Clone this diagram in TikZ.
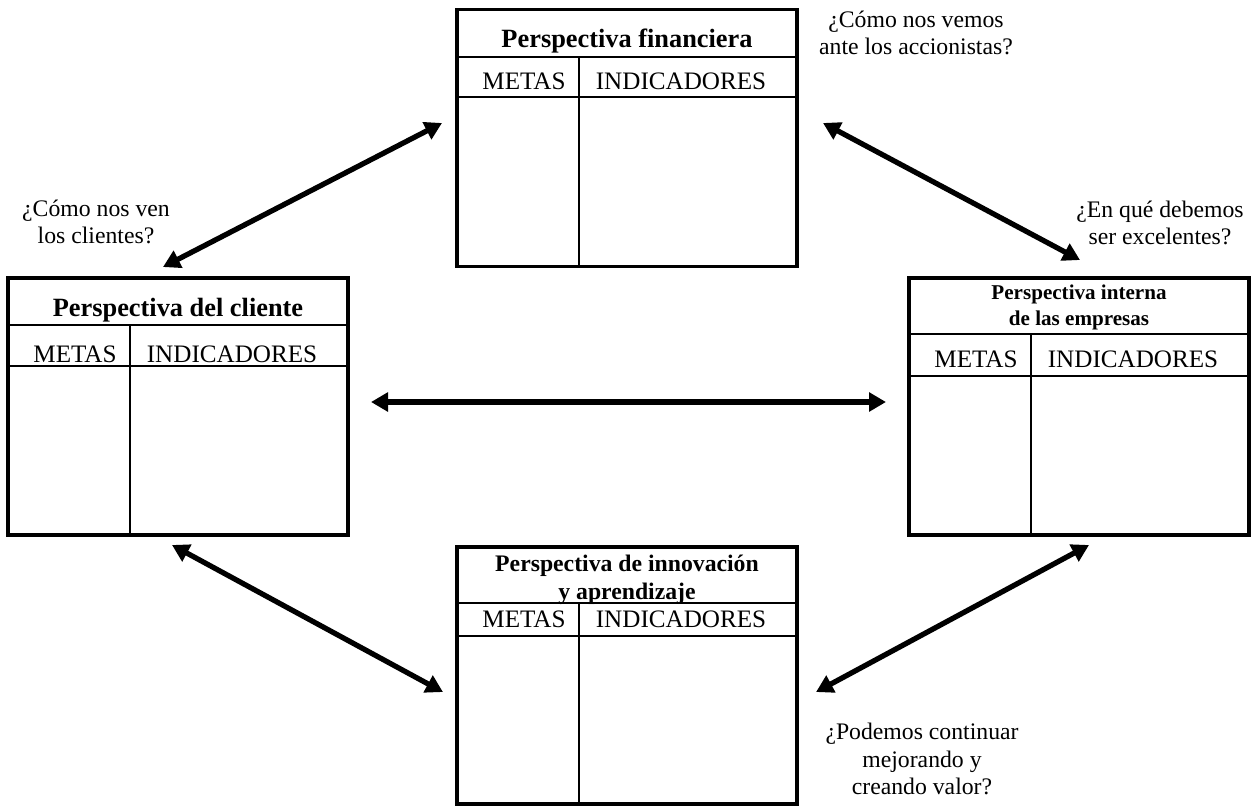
\documentclass[tikz,border=0pt]{standalone}
\usepackage{fontspec}
\setmainfont{Liberation Serif}
\usetikzlibrary{arrows.meta}

\begin{document}
\begin{tikzpicture}[x=0.02cm,y=-0.02cm]
		\tikzset{frame/.style = {shape=rectangle,draw,line width=2.2pt,minimum width=6.8cm,minimum height=5.14cm,inner sep=0pt}}
		\tikzset{rule/.style = {line width=1.1pt}}
		\tikzset{title/.style = {font=\bfseries\fontsize{15}{17}\selectfont,inner sep=0pt,align=center}}
		\tikzset{head/.style = {font=\fontsize{14.3}{16}\selectfont,inner sep=0pt}}
		\tikzset{question/.style = {font=\fontsize{13.5}{15.5}\selectfont,inner sep=0pt,align=center}}
		\tikzset{twoway/.style = {<->,> = {Triangle[length=0.34cm,width=0.37cm]},line width=3pt}}
		\useasboundingbox (0,0) rectangle (1256,806);
		% boxes
		\node[frame] (fin) at (627,138) {};
		\node[frame] (cli) at (178,406.5) {};
		\node[frame] (int) at (1079,406.5) {};
		\node[frame] (inn) at (627,675.5) {};
		% rows and columns
		\draw[rule] (457,57) -- (797,57) (457,97) -- (797,97) (579,57) -- (579,266);
		\draw[rule] (8,325) -- (348,325) (8,366) -- (348,366) (130,325) -- (130,535);
		\draw[rule] (909,334) -- (1249,334) (909,376) -- (1249,376) (1031,334) -- (1031,535);
		\draw[rule] (457,603) -- (797,603) (457,636) -- (797,636) (579,603) -- (579,804);
		% titles
		\node[title] (finT) at (627,41) {Perspectiva financiera};
		\node[title] (cliT) at (178,310) {Perspectiva del cliente};
		\node[title,font=\bfseries\fontsize{12}{14.8}\selectfont] (intT) at (1079,307) {Perspectiva interna\\de las empresas};
		\node[title,font=\bfseries\fontsize{13.5}{16}\selectfont] (innT) at (627,580) {Perspectiva de innovación\\y aprendizaje};
		% headers
		\node[head] (finM) at (524,81) {METAS};
		\node[head] (finI) at (681,81) {INDICADORES};
		\node[head] (cliM) at (75,354) {METAS};
		\node[head] (cliI) at (232,354) {INDICADORES};
		\node[head] (intM) at (976,359) {METAS};
		\node[head] (intI) at (1133,359) {INDICADORES};
		\node[head] (innM) at (524,619) {METAS};
		\node[head] (innI) at (681,619) {INDICADORES};
		% questions
		\node[question] (qFin) at (916,33) {¿Cómo nos vemos\\ante los accionistas?};
		\node[question] (qCli) at (96,222) {¿Cómo nos ven\\los clientes?};
		\node[question] (qInt) at (1160,223) {¿En qué debemos\\ser excelentes?};
		\node[question] (qInn) at (922,759) {¿Podemos continuar\\mejorando y\\creando valor?};
		% ends
		\coordinate (finL) at (442,123);
		\coordinate (cliU) at (163,267);
		\coordinate (finR) at (823,123);
		\coordinate (intU) at (1080,260);
		\coordinate (cliR) at (371,402);
		\coordinate (intL) at (886,402);
		\coordinate (cliD) at (172,545);
		\coordinate (innL) at (443,692);
		\coordinate (intD) at (1089,545);
		\coordinate (innR) at (816,692);
		% edges
		\draw[twoway] (finL) -- (cliU);
		\draw[twoway] (finR) -- (intU);
		\draw[twoway] (cliR) -- (intL);
		\draw[twoway] (cliD) -- (innL);
		\draw[twoway] (intD) -- (innR);
\end{tikzpicture}
\end{document}
